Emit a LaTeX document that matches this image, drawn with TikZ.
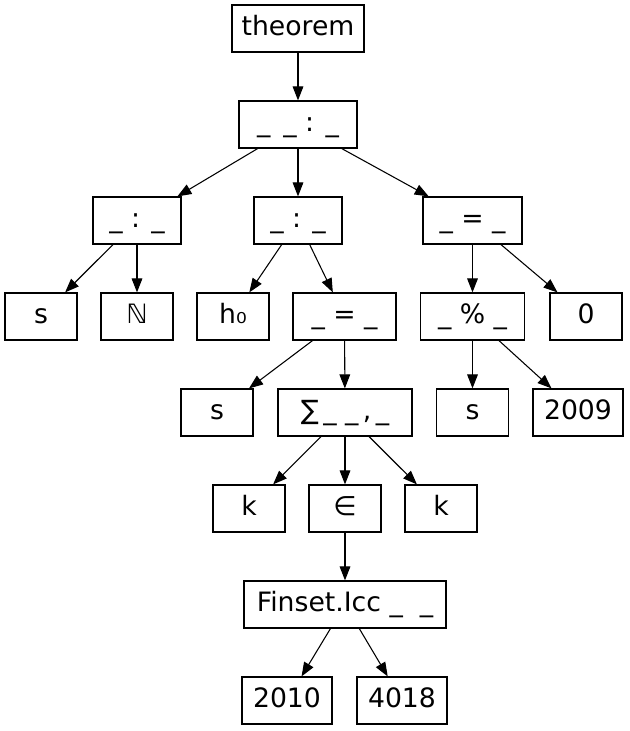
\documentclass[tikz,border=0pt]{standalone}
\usepackage{fontspec}
\setmainfont{DejaVu Sans}
\usepackage{tikz}
\usetikzlibrary{arrows.meta}
\tikzset{>={Triangle[length=10.5pt,width=8pt]}}
\tikzset{
  term/.style={draw,rectangle,line width=0.9pt,anchor=center,
    minimum width=54pt,minimum height=35.25pt,inner sep=0pt,
    text height=15pt,text depth=4.5pt,
    font=\fontsize{20pt}{24pt}\selectfont},
  edge/.style={->,line width=0.8pt}
}

\begin{document}
\begin{tikzpicture}[x=0.75pt,y=-0.75pt]
      \useasboundingbox (0,0) rectangle (629,731);

      \node [term,minimum width=99pt] (thm) at (298,28.5) {theorem};

      \node [term,minimum width=88.5pt] (has) at (298,124.5) {\_ \,\_ : \_};

      \node [term,minimum width=66pt] (memS) at (137,220.5) {\_ : \_};
      \node [term,minimum width=66pt] (memH) at (298,220.5) {\_ : \_};
      \node [term,minimum width=74.25pt] (eqZ) at (472.5,220.5) {\_ = \_};

      \node [term] (sS) at (41,316.5) {s};
      \node [term] (natN) at (137,316.5) {ℕ};
      \node [term] (hZero) at (233,316.5) {h₀};
      \node [term,minimum width=77.25pt] (eqSum) at (344.5,316.5) {\_ = \_};
      \node [term,minimum width=78pt] (mod) at (472.5,316.5) {\_ \% \_};
      \node [term] (zero) at (586,316.5) {0};

      \node [term] (sL) at (217,412.5) {s};
      \node [term,minimum width=100.5pt] (sum) at (345,412.5) {∑\,\_ \_\,,\,\_};
      \node [term] (sR) at (472.5,412.5) {s};
      \node [term,minimum width=67.5pt] (y2009) at (578,412.5) {2009};

      \node [term] (kL) at (249,508.5) {k};
      \node [term] (mem) at (345,508.5) {∈};
      \node [term] (kR) at (441,508.5) {k};

      \node [term,minimum width=151.5pt] (icc) at (345,604.5) {Finset.Icc \_ \ \_};

      \node [term,minimum width=67.5pt] (lo) at (287,700.5) {2010};
      \node [term,minimum width=67.5pt] (hi) at (402,700.5) {4018};

      \draw [edge] (thm) -- (has);
      \draw [edge] (has) -- (memS);
      \draw [edge] (has) -- (memH);
      \draw [edge] (has) -- (eqZ);

      \draw [edge] (memS) -- (sS);
      \draw [edge] (memS) -- (natN);
      \draw [edge] (memH) -- (hZero);
      \draw [edge] (memH) -- (eqSum);
      \draw [edge] (eqZ) -- (mod);
      \draw [edge] (eqZ) -- (zero);

      \draw [edge] (eqSum) -- (sL);
      \draw [edge] (eqSum) -- (sum);
      \draw [edge] (mod) -- (sR);
      \draw [edge] (mod) -- (y2009);

      \draw [edge] (sum) -- (kL);
      \draw [edge] (sum) -- (mem);
      \draw [edge] (sum) -- (kR);

      \draw [edge] (mem) -- (icc);
      \draw [edge] (icc) -- (lo);
      \draw [edge] (icc) -- (hi);
  \end{tikzpicture}
\end{document}
